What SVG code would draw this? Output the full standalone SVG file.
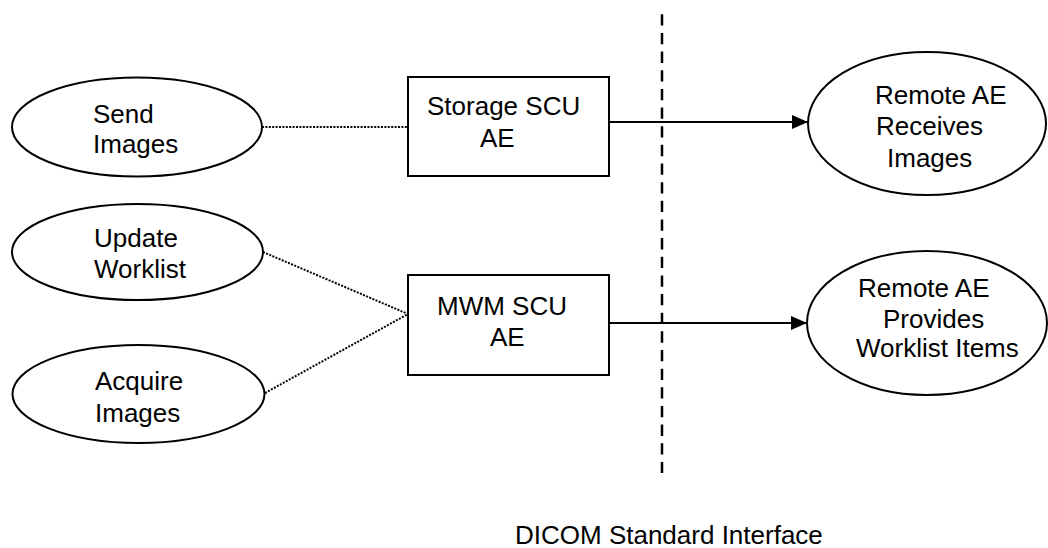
<svg xmlns="http://www.w3.org/2000/svg" width="1048" height="548" viewBox="0 0 1048 548">
<defs>
<style>
.n{fill:#fff;stroke:#000;stroke-width:2}
.t{font-family:"Liberation Sans",Arial,sans-serif;font-size:26px;fill:#000}
.dot{stroke:#000;stroke-width:2;stroke-dasharray:2 1.4;fill:none}
.arr{stroke:#000;stroke-width:2;fill:none;marker-end:url(#ah)}
</style>
<marker id="ah" markerWidth="16" markerHeight="14" refX="16" refY="7" orient="auto" markerUnits="userSpaceOnUse">
<path d="M0,0 L16,7 L0,14 Z" fill="#000"/>
</marker>
</defs>
<rect width="1048" height="548" fill="#fff"/>
<g id="connectors">
<line x1="662" y1="14.3" x2="662" y2="473" stroke="#000" stroke-width="2.5" stroke-dasharray="11.3 7.35"/>
<line class="dot" x1="262" y1="127" x2="408" y2="127"/>
<line class="dot" x1="263" y1="252" x2="408" y2="314"/>
<line class="dot" x1="265" y1="393" x2="408" y2="314"/>
<line class="arr" x1="609" y1="122" x2="808" y2="122"/>
<line class="arr" x1="609" y1="323" x2="807" y2="323"/>
</g>
<g id="send-images">
<ellipse class="n" cx="137" cy="127" rx="125" ry="49.5"/>
<text class="t" x="93" y="123">Send</text>
<text class="t" x="93" y="153">Images</text>
</g>
<g id="update-worklist">
<ellipse class="n" cx="137.5" cy="252" rx="125.5" ry="48"/>
<text class="t" x="94" y="247">Update</text>
<text class="t" x="94" y="278">Worklist</text>
</g>
<g id="acquire-images">
<ellipse class="n" cx="138.5" cy="394" rx="126" ry="49"/>
<text class="t" x="95" y="390">Acquire</text>
<text class="t" x="95" y="422">Images</text>
</g>
<g id="storage-scu">
<rect class="n" x="408" y="77" width="201" height="99"/>
<text class="t" x="427" y="115">Storage SCU</text>
<text class="t" x="480" y="147">AE</text>
</g>
<g id="mwm-scu">
<rect class="n" x="408" y="275" width="201" height="100"/>
<text class="t" x="437" y="315">MWM SCU</text>
<text class="t" x="490" y="346">AE</text>
</g>
<g id="remote-receives">
<ellipse class="n" cx="927" cy="123.5" rx="119" ry="71.5"/>
<text class="t" x="875" y="104">Remote AE</text>
<text class="t" x="876" y="135">Receives</text>
<text class="t" x="887" y="167">Images</text>
</g>
<g id="remote-provides">
<ellipse class="n" cx="927" cy="323" rx="120" ry="72"/>
<text class="t" x="858" y="297">Remote AE</text>
<text class="t" x="883" y="328">Provides</text>
<text class="t" x="856" y="357">Worklist Items</text>
</g>
<text class="t" x="515" y="544">DICOM Standard Interface</text>
</svg>
